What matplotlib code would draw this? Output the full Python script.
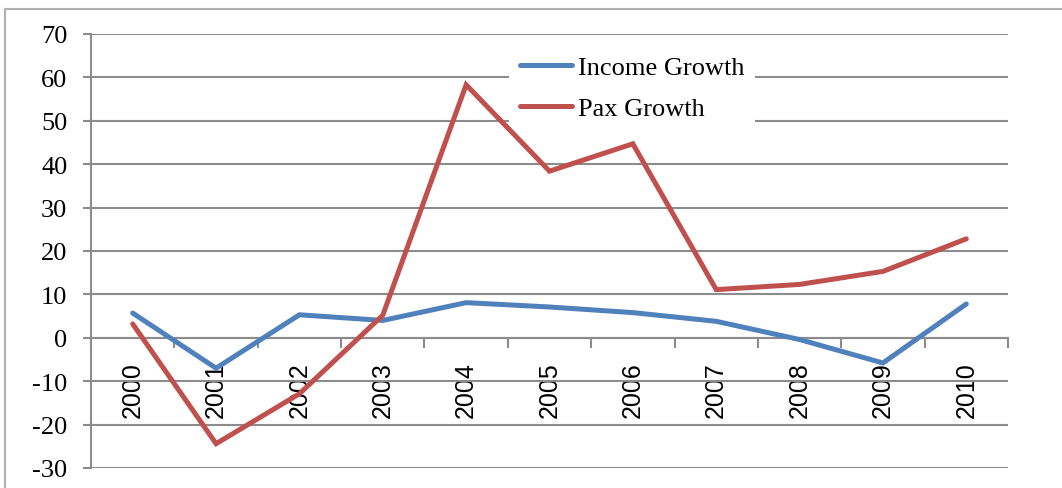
import numpy as np
import matplotlib.pyplot as plt
from matplotlib.lines import Line2D

years = ['2000', '2001', '2002', '2003', '2004', '2005', '2006', '2007', '2008', '2009', '2010']
income_growth = [5.7, -7.0, 5.3, 4.0, 8.1, 7.1, 5.8, 3.8, -0.4, -5.8, 7.8]
pax_growth = [3.2, -24.4, -12.9, 5.2, 58.3, 38.4, 44.7, 11.1, 12.3, 15.3, 22.8]

plt.rcParams['axes.unicode_minus'] = False
grid_col = '#8c8c8c'
serif = ['Liberation Serif', 'DejaVu Serif']

fig = plt.figure(figsize=(10.62, 4.89), dpi=100)
ax = fig.add_axes([91/1062, 1 - 469/489, (1008 - 91)/1062, (469 - 35)/489])

x = np.arange(len(years))
ax.plot(x, income_growth, color='#4F81BD', lw=3.6, label='Income Growth',
        solid_capstyle='round', solid_joinstyle='miter', zorder=6)
ax.plot(x, pax_growth, color='#C0504D', lw=3.6, label='Pax Growth',
        solid_capstyle='round', solid_joinstyle='miter', zorder=6)

ax.set_xlim(-0.5, len(years) - 0.5)
ax.set_ylim(-30, 70)

# value axis: gridlines every 10 with small outward ticks
ax.set_yticks(np.arange(-30, 71, 10))
ax.yaxis.grid(True, color=grid_col, lw=1.5)
ax.tick_params(axis='y', length=6, width=1.5, color=grid_col, pad=11,
               labelsize=19)
for lab in ax.get_yticklabels():
    lab.set_fontfamily(serif)

# category axis crosses at zero, ticks between categories
ax.spines['bottom'].set_position(('data', 0))
ax.spines['bottom'].set_color(grid_col)
ax.spines['bottom'].set_linewidth(1.5)
ax.spines['left'].set_color(grid_col)
ax.spines['left'].set_linewidth(1.5)
ax.spines['top'].set_visible(False)
ax.spines['right'].set_visible(False)
ax.set_xticks(np.arange(-0.5, len(years), 1.0))
ax.set_xticklabels([])
ax.tick_params(axis='x', which='major', length=7, width=1.5, color=grid_col)
ax.set_xticks(x, minor=True)
ax.set_xticklabels(years, minor=True, rotation=90, fontsize=18,
                   family=['Liberation Sans', 'DejaVu Sans'])
ax.tick_params(axis='x', which='minor', length=0, pad=17)
ax.set_axisbelow(True)

leg = ax.legend(loc='upper left', bbox_to_anchor=(0.456, 0.975), frameon=True,
                fancybox=False, edgecolor='none', framealpha=1, borderaxespad=0,
                prop={'family': serif, 'size': 19}, handlelength=2.0,
                handletextpad=0.2, labelspacing=0.67, borderpad=0.4)
leg.set_zorder(5)

# outer chart frame
fig.add_artist(Line2D([5/1062, 1], [1 - 10/489, 1 - 10/489], color='#b0b0b0', lw=1.5))
fig.add_artist(Line2D([5/1062, 5/1062], [0, 1 - 10/489], color='#b0b0b0', lw=1.5))

fig.savefig('out.png', dpi=100)
